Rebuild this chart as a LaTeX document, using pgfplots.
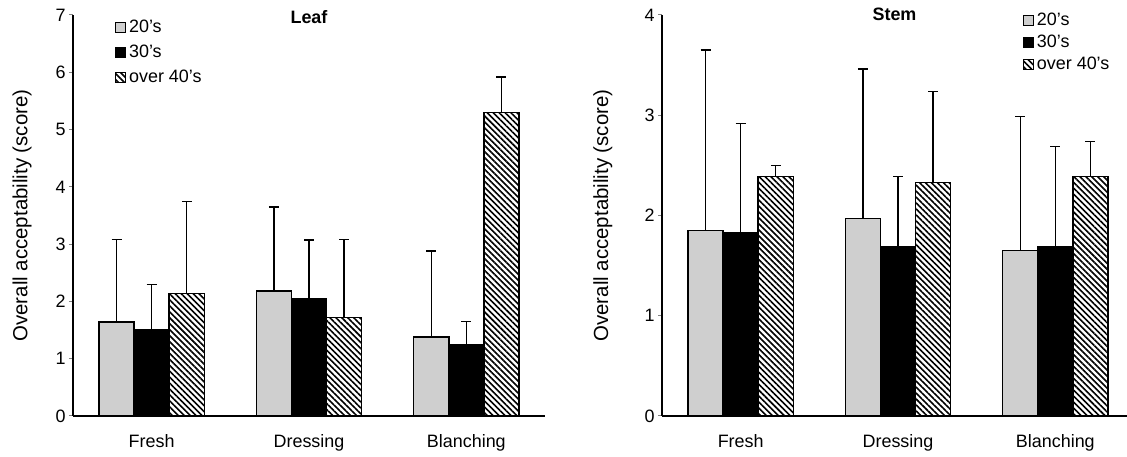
\documentclass[border=0pt]{standalone}
\usepackage{fontspec}
\setmainfont{Liberation Sans}
\usepackage{pgfplots}
\pgfplotsset{compat=1.18}
\usetikzlibrary{patterns.meta}

\pgfplotsset{
  sqlegend/.style={legend image code/.code={\draw[##1,line width=0.9bp] (0bp,-5bp) rectangle (10bp,5bp);}},
  s20/.style={draw=black, fill=black!19, line width=1.5bp, sqlegend},
  s30/.style={draw=black, fill=black, line width=1.5bp, sqlegend},
  s40/.style={draw=black, pattern={Lines[angle=-45, distance=4.2bp, line width=1.6bp]}, line width=1.5bp, sqlegend},
  panel/.style={
    scale only axis, anchor=south west,
    height=401bp,
    ybar=0pt, bar width=0.223,
    xmin=-0.5, ymin=0,
    axis x line*=bottom, axis y line*=left,
    axis line style={line width=1.3bp},
    xtick={0,1,2}, xticklabels={Fresh,Dressing,Blanching},
    major x tick style={draw=none},
    extra x ticks={0.5,1.5,2.5}, extra x tick labels={},
    extra x tick style={major tick length=6bp, tick align=inside, tick style={line width=1bp}},
    ytick distance=1,
    ytick style={line width=1bp},
    major tick length=4bp, tick align=outside,
    /pgf/number format/assume math mode=true,
    tick label style={font=\fontsize{18}{18}\selectfont},
    xticklabel style={yshift=-11bp},
    ylabel={Overall acceptability (score)},
    ylabel style={anchor=center, font=\fontsize{20.5}{20.5}\selectfont},
    title style={at={(0.5,1)}, anchor=center, font=\fontsize{18}{18}\selectfont\bfseries},
    error bars/y dir=plus, error bars/y explicit,
    error bars/error bar style={line width=1.3bp, black},
    error bars/error mark options={rotate=90, mark size=5bp, line width=1.3bp, black},
    legend cell align=left,
    legend style={draw=none, fill=none, inner sep=0pt, row sep=8bp,
      font=\fontsize{18}{18}\selectfont, anchor=north west,
      nodes={inner sep=1bp}, column sep=2bp},
  },
}

\begin{document}
\begin{tikzpicture}[x=1bp,y=1bp]
% Leaf
\begin{axis}[panel, at={(73bp,41bp)}, width=472bp, xmax=2.5, ymax=7,
  title={Leaf}, title style={yshift=-8bp},
  ylabel style={at={(axis description cs:-0.108,0.5)}},
  legend style={at={(axis description cs:0.089,0.99)}, row sep=9bp}]
\addplot[s20] coordinates {(0,1.64) +- (0,1.44) (1,2.18) +- (0,1.47) (2,1.38) +- (0,1.50)};
\addplot[s30] coordinates {(0,1.50) +- (0,0.80) (1,2.04) +- (0,1.03) (2,1.25) +- (0,0.40)};
\addplot[s40] coordinates {(0,2.14) +- (0,1.60) (1,1.72) +- (0,1.36) (2,5.30) +- (0,0.62)};
\legend{20's,30's,over 40's}
\end{axis}
% Stem
\begin{axis}[panel, at={(662bp,41bp)}, width=465bp, xmax=2.4556, ymax=4,
  extra x ticks={0.5,1.5},
  title={Stem}, title style={yshift=-5bp},
  ylabel style={at={(axis description cs:-0.127,0.5)}},
  legend style={at={(axis description cs:0.776,1.007)}, row sep=6bp}]
\addplot[s20] coordinates {(0,1.85) +- (0,1.80) (1,1.97) +- (0,1.49) (2,1.65) +- (0,1.34)};
\addplot[s30] coordinates {(0,1.83) +- (0,1.09) (1,1.69) +- (0,0.70) (2,1.69) +- (0,1.00)};
\addplot[s40] coordinates {(0,2.39) +- (0,0.11) (1,2.33) +- (0,0.91) (2,2.39) +- (0,0.35)};
\legend{20's,30's,over 40's}
\end{axis}
\pgfresetboundingbox
\path[use as bounding box] (0,0) rectangle (1127,457);
\end{tikzpicture}
\end{document}
